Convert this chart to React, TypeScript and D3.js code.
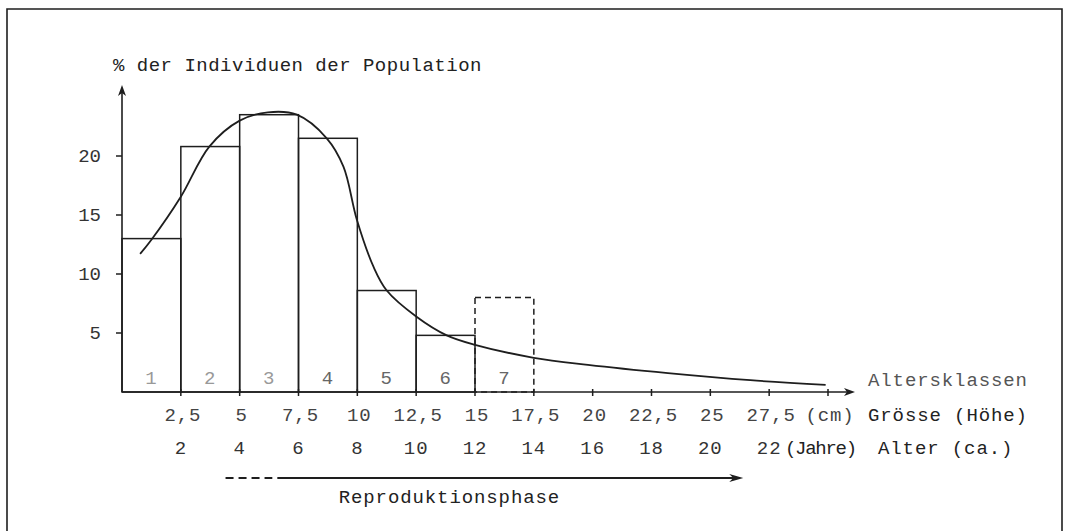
import * as d3 from "d3";

// Altersklassen 1–7, Anteil in % (Klasse 7 nur geschätzt, gestrichelt)
const classLabels = ["1", "2", "3", "4", "5", "6", "7"];
const classShares = [13, 20.8, 23.5, 21.5, 8.6, 4.8, 8.0];
const classWidthCm = 2.5;

// Ausgleichskurve (Grösse in cm, Anteil in %)
const curveCm = [0.77, 1.25, 2.5, 3.71, 5.0, 6.2, 7.43, 8.7, 9.41, 9.98, 10.69, 11.25, 12.5, 13.8, 15.0, 17.5, 19.8, 23.2, 26.7, 29.9];
const curvePct = [11.7, 12.9, 16.55, 20.8, 23.0, 23.7, 23.5, 21.5, 19.1, 14.6, 10.6, 8.6, 6.4, 4.8, 4.0, 2.9, 2.3, 1.6, 1.0, 0.6];

// Achsenbeschriftungen
const yTicks = [5, 10, 15, 20];
const sizeTicks = [2.5, 5, 7.5, 10, 12.5, 15, 17.5, 20, 22.5, 25, 27.5, 30];
const sizeLabels = ["2,5", "5", "7,5", "10", "12,5", "15", "17,5", "20", "22,5", "25", "27,5", "(cm)"];
const ageLabels = ["2", "4", "6", "8", "10", "12", "14", "16", "18", "20", "22"];

// Reproduktionsphase (in cm): unsicherer Beginn, sicherer Beginn, Ende
const reproStart = 4.4;
const reproSure = 6.6;
const reproEnd = 26.4;

const W = 1065;
const H = 531;
const INK = "#1e1e1e";
const FONT = "'Liberation Mono', 'DejaVu Sans Mono', monospace";

export default function App() {
  const x = d3.scaleLinear().domain([0, 30]).range([122, 828]);
  const y = d3.scaleLinear().domain([0, 20]).range([392, 156]);
  const x0 = x(0);
  const y0 = y(0);
  const yTop = 85;
  const xEnd = 855;

  const line = d3
    .line<number>()
    .x((_d, i) => x(curveCm[i]))
    .y((d) => y(d))
    .curve(d3.curveCatmullRom.alpha(0.5));

  const textStyle = { fontFamily: FONT, fontSize: 19, letterSpacing: 0.9 };

  return (
    <svg
      width={W}
      height={H}
      style={{ position: "absolute", left: 0, top: 0, background: "#fff" }}
    >
      {/* Rahmen */}
      <path d={`M7,${H + 2} L7,9 L1062,9 L1062,${H + 2}`} fill="none" stroke={INK} strokeWidth={1.6} />

      <text x={113} y={71} fill="#222" style={{ ...textStyle, letterSpacing: 0.5 }}>
        % der Individuen der Population
      </text>

      {/* Balken */}
      {classShares.map((v, i) => {
        const left = x(i * classWidthCm);
        const right = x((i + 1) * classWidthCm);
        const dashed = i === classShares.length - 1;
        return (
          <rect
            key={i}
            x={left}
            y={y(v)}
            width={right - left}
            height={y0 - y(v)}
            fill="none"
            stroke={INK}
            strokeWidth={1.5}
            strokeDasharray={dashed ? "6,4" : undefined}
          />
        );
      })}
      {classLabels.map((c, i) => (
        <text
          key={c}
          x={x((i + 0.5) * classWidthCm)}
          y={384}
          textAnchor="middle"
          fill={i < 3 ? "#999" : "#666"}
          style={textStyle}
        >
          {c}
        </text>
      ))}

      {/* Kurve */}
      <path d={line(curvePct) ?? ""} fill="none" stroke={INK} strokeWidth={1.8} />

      {/* y-Achse */}
      <line x1={x0} y1={y0} x2={x0} y2={yTop + 4} stroke={INK} strokeWidth={1.6} />
      <path d={`M${x0},${yTop} L${x0 - 4},${yTop + 11} L${x0},${yTop + 8} L${x0 + 4},${yTop + 11} Z`} fill={INK} />
      {yTicks.map((t) => (
        <g key={t}>
          <line x1={x0 - 6} x2={x0} y1={y(t)} y2={y(t)} stroke={INK} strokeWidth={1.5} />
          <text x={101} y={y(t) + 6} textAnchor="end" fill="#333" style={{ ...textStyle, letterSpacing: 0 }}>
            {t}
          </text>
        </g>
      ))}

      {/* x-Achse */}
      <line x1={x0} y1={y0} x2={xEnd - 4} y2={y0} stroke={INK} strokeWidth={1.6} />
      <path d={`M${xEnd},${y0} L${xEnd - 11},${y0 - 4} L${xEnd - 8},${y0} L${xEnd - 11},${y0 + 4} Z`} fill={INK} />
      {sizeTicks.map((t) => (
        <line key={t} x1={x(t)} x2={x(t)} y1={y0 - 3} y2={y0 + 4} stroke={INK} strokeWidth={1.5} />
      ))}
      <text x={868} y={386} fill="#555" style={textStyle}>
        Altersklassen
      </text>

      {sizeTicks.map((t, i) => (
        <text key={t} x={x(t) + 2} y={421} textAnchor="middle" fill="#444" style={textStyle}>
          {sizeLabels[i]}
        </text>
      ))}
      <text x={868} y={421} fill="#222" style={textStyle}>
        Grösse (Höhe)
      </text>

      {ageLabels.map((a, i) => (
        <text key={a} x={x(sizeTicks[i])} y={454} textAnchor="middle" fill="#333" style={textStyle}>
          {a}
        </text>
      ))}
      <text x={785} y={454} fill="#222" textLength={73} lengthAdjust="spacing" style={textStyle}>
        (Jahre)
      </text>
      <text x={878} y={454} fill="#222" style={textStyle}>
        Alter (ca.)
      </text>

      {/* Reproduktionsphase */}
      <line x1={x(reproStart)} x2={x(reproSure) - 5} y1={478} y2={478} stroke={INK} strokeWidth={2} strokeDasharray="8,5" />
      <line x1={x(reproSure)} x2={x(reproEnd) - 6} y1={478} y2={478} stroke={INK} strokeWidth={1.8} />
      <path
        d={`M${x(reproEnd)},478 L${x(reproEnd) - 14},474 L${x(reproEnd) - 10},478 L${x(reproEnd) - 14},482 Z`}
        fill={INK}
      />
      <text x={(x(reproStart) + x(reproEnd)) / 2 - 35} y={503} textAnchor="middle" fill="#222" style={textStyle}>
        Reproduktionsphase
      </text>
    </svg>
  );
}
